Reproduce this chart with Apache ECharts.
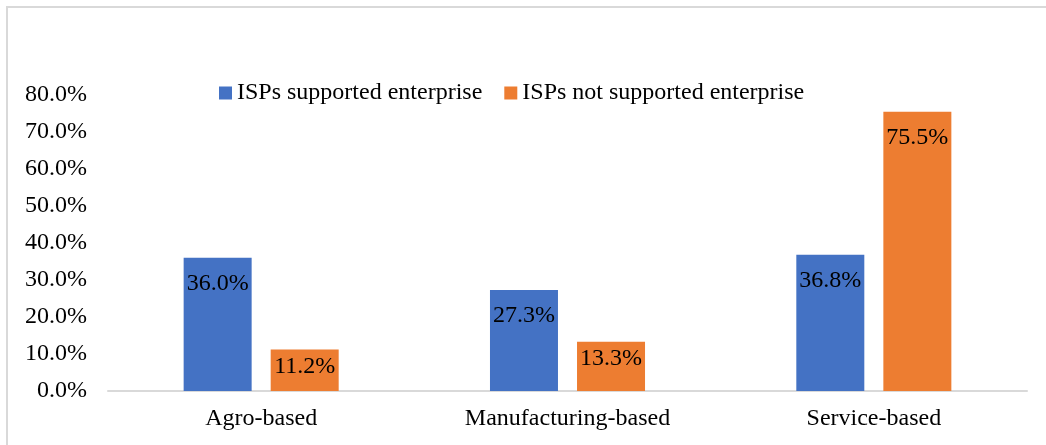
<!DOCTYPE html>
<html>
<head>
<meta charset="utf-8">
<script src="https://cdn.jsdelivr.net/npm/echarts@6/dist/echarts.min.js"></script>
<style>
  html, body { margin: 0; padding: 0; background: #fff; }
  #chart { width: 1046px; height: 445px; }
</style>
</head>
<body>
<div id="chart"></div>
<script>
  // data
  const categories = ['Agro-based', 'Manufacturing-based', 'Service-based']
  const supported = [36.0, 27.3, 36.8]
  const notSupported = [11.2, 13.3, 75.5]
  const seriesNames = ['ISPs supported enterprise', 'ISPs not supported enterprise']

  const font = '"Liberation Serif", "Times New Roman", serif'
  const chart = echarts.init(document.getElementById('chart'))

  const barLabel = {
    show: true,
    position: 'insideTop',
    distance: 14,
    color: '#000',
    fontFamily: font,
    fontSize: 24,
    formatter: p => p.value.toFixed(1) + '%'
  }

  // short bars get their label pushed up a bit so it fits
  const toItems = arr => arr.map(v => (v < 20 ? { value: v, label: { distance: 5 } } : v))

  chart.setOption({
    animation: false,
    textStyle: { fontFamily: font },
    graphic: [{
      type: 'rect',
      shape: { x: 7, y: 7, width: 1100, height: 500 },
      style: { fill: 'none', stroke: '#d9d9d9', lineWidth: 2 },
      silent: true
    }],
    legend: {
      top: 76,
      left: 214,
      itemWidth: 13,
      itemHeight: 13,
      itemGap: 22,
      icon: 'rect',
      textStyle: { fontFamily: font, fontSize: 24, color: '#000' },
      data: seriesNames
    },
    grid: { left: 108, right: 19, top: 95, bottom: 54 },
    xAxis: {
      type: 'category',
      data: categories,
      axisLine: { lineStyle: { color: '#d9d9d9', width: 2 } },
      axisTick: { show: false },
      axisLabel: { color: '#000', fontFamily: font, fontSize: 24, margin: 16 }
    },
    yAxis: {
      type: 'value',
      min: 0,
      max: 80,
      interval: 10,
      splitLine: { show: false },
      axisLine: { show: false },
      axisTick: { show: false },
      axisLabel: {
        color: '#000', fontFamily: font, fontSize: 24, margin: 21,
        formatter: v => v.toFixed(1) + '%'
      }
    },
    series: [
      {
        name: seriesNames[0],
        type: 'bar',
        data: toItems(supported),
        barWidth: 68,
        barGap: '28%',
        itemStyle: { color: '#4472c4' },
        label: barLabel
      },
      {
        name: seriesNames[1],
        type: 'bar',
        data: toItems(notSupported),
        barWidth: 68,
        itemStyle: { color: '#ed7d31' },
        label: barLabel
      }
    ]
  })
</script>
</body>
</html>
